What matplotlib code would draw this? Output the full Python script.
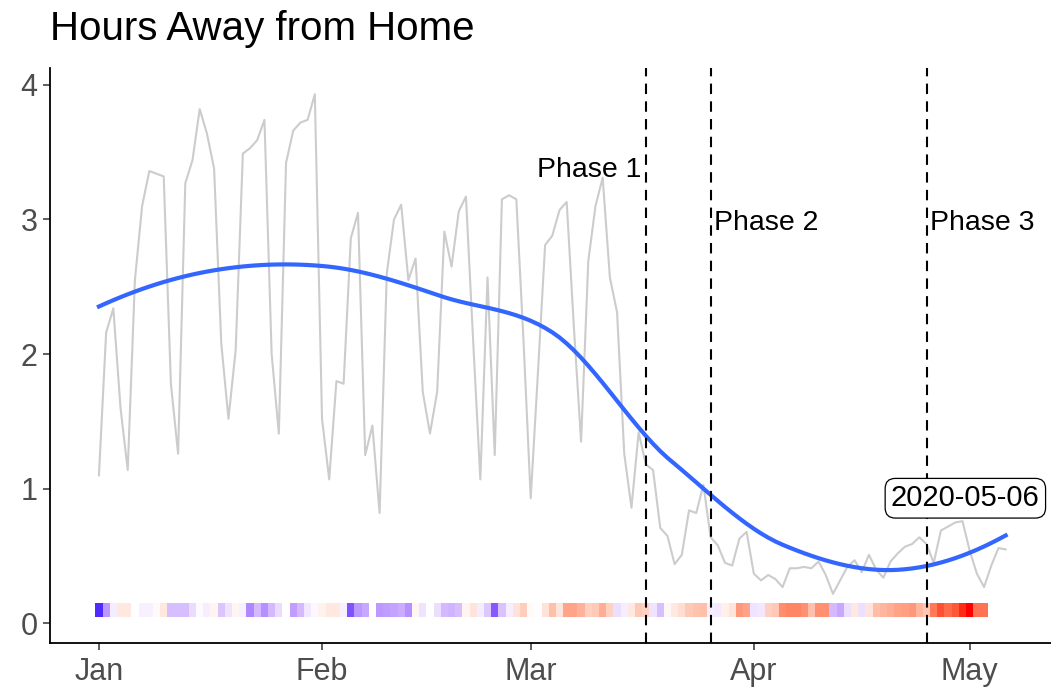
import matplotlib
matplotlib.use('Agg')
import matplotlib.pyplot as plt
import matplotlib.dates as mdates
from matplotlib.transforms import offset_copy
import numpy as np
import pandas as pd

plt.rcParams['font.family'] = ['Liberation Sans', 'DejaVu Sans']

# Daily hours away from home, 2020-01-01 .. 2020-05-06
start = '2020-01-01'
hours = [1.10, 2.16, 2.34, 1.60, 1.14, 2.55, 3.10, 3.36, 3.34, 3.32,
         1.78, 1.26, 3.27, 3.44, 3.82, 3.64, 3.38, 2.08, 1.52, 2.03,
         3.49, 3.53, 3.59, 3.74, 2.00, 1.41, 3.42, 3.66, 3.72, 3.74,
         3.93, 1.52, 1.07, 1.80, 1.78, 2.86, 3.05, 1.25, 1.47, 0.82,
         2.60, 3.00, 3.11, 2.55, 2.71, 1.72, 1.41, 1.72, 2.91, 2.65,
         3.06, 3.17, 2.10, 1.07, 2.57, 1.25, 3.15, 3.18, 3.15, 2.10,
         0.93, 1.86, 2.81, 2.88, 3.07, 3.13, 2.20, 1.35, 2.69, 3.10,
         3.31, 2.57, 2.31, 1.26, 0.86, 1.42, 1.18, 1.14, 0.71, 0.65,
         0.44, 0.51, 0.84, 0.82, 1.03, 0.64, 0.58, 0.45, 0.43, 0.63,
         0.68, 0.37, 0.32, 0.36, 0.33, 0.27, 0.41, 0.41, 0.42, 0.41,
         0.46, 0.36, 0.22, 0.32, 0.42, 0.47, 0.38, 0.51, 0.40, 0.34,
         0.46, 0.52, 0.57, 0.59, 0.64, 0.59, 0.45, 0.69, 0.72, 0.75,
         0.76, 0.54, 0.37, 0.27, 0.43, 0.56, 0.55]

# Relative change shown in the strip (negative = blue, positive = red)
change = [-0.90, -0.45, -0.08, 0.12, 0.12, 0.00, -0.06, -0.06, 0.03, 0.12,
          -0.28, -0.28, -0.28, -0.15, -0.02, -0.07, 0.06, -0.25, -0.12, 0.05,
          -0.06, -0.52, -0.30, -0.48, -0.30, -0.15, 0.00, -0.42, -0.30, -0.10,
          -0.03, 0.07, 0.12, 0.12, -0.06, -0.75, -0.45, -0.38, 0.00, -0.44,
          -0.42, -0.40, -0.36, -0.48, 0.05, -0.12, 0.00, -0.14, -0.30, -0.32,
          -0.28, 0.06, 0.14, -0.08, -0.24, -0.72, -0.26, -0.07, 0.15, 0.26,
          0.03, -0.01, 0.15, 0.33, 0.14, 0.47, 0.47, 0.40, 0.25, 0.28,
          0.42, 0.24, -0.14, -0.07, 0.12, 0.28, 0.23, -0.12, -0.28, 0.04,
          0.12, 0.18, 0.28, 0.32, 0.33, -0.07, -0.09, 0.08, 0.14, 0.53,
          0.47, -0.12, -0.10, 0.25, 0.29, 0.58, 0.62, 0.62, 0.57, 0.33,
          0.57, 0.57, -0.30, -0.38, -0.13, 0.12, -0.13, 0.14, 0.35, 0.38,
          0.42, 0.48, 0.50, 0.53, 0.38, 0.30, 0.68, 0.84, 0.74, 0.82,
          0.95, 1.00, 0.70, 0.70]

phase_dates = ['2020-03-17', '2020-03-26', '2020-04-25']
phase_labels = ['Phase 1', 'Phase 2', 'Phase 3']
phase_y = [3.4, 3.0, 3.0]
label_text = '2020-05-06'

dates = pd.date_range(start, periods=len(hours), freq='D')
tile_dates = pd.date_range(start, periods=len(change), freq='D')
hours = np.array(hours)
change = np.array(change)


# Lab -> sRGB, used to build a blue-white-red ramp interpolated in Lab space
def lab_to_rgb(lab):
    L, a, b = lab[:, 0], lab[:, 1], lab[:, 2]
    fy = (L + 16) / 116
    fx = fy + a / 500
    fz = fy - b / 200

    def finv(t):
        return np.where(t**3 > 0.008856, t**3, (t - 16 / 116) / 7.787)

    X = 0.95047 * finv(fx)
    Y = finv(fy)
    Z = 1.08883 * finv(fz)
    r = 3.2406 * X - 1.5372 * Y - 0.4986 * Z
    g = -0.9689 * X + 1.8758 * Y + 0.0415 * Z
    bb = 0.0557 * X - 0.2040 * Y + 1.0570 * Z
    rgb = np.clip(np.stack([r, g, bb], axis=1), 0, 1)
    return np.where(rgb <= 0.0031308, 12.92 * rgb,
                    1.055 * rgb**(1 / 2.4) - 0.055).clip(0, 1)


def diverging(v):
    blue = np.array([32.30, 79.19, -107.86])
    white = np.array([100.0, 0.0, 0.0])
    red = np.array([53.24, 80.09, 67.20])
    v = np.asarray(v)[:, None]
    lab = np.where(v < 0, white + (-v) * (blue - white), white + v * (red - white))
    return lab_to_rgb(lab)


# Local quadratic fit (tricube weights) at x0, returns value and slope
def local_fit(x, y, x0, q):
    d = np.abs(x - x0)
    h = np.sort(d)[q - 1]
    w = np.clip(1 - (d / h)**3, 0, None)**3
    coef = np.polyfit(x - x0, y, 2, w=np.sqrt(w))
    return coef[-1], coef[-2]


# Loess (span 0.75) evaluated on split vertices, cubic Hermite in between
def loess(x, y, span=0.75, cell=0.2):
    n = len(x)
    q = int(np.floor(n * span))
    fc = int(np.floor(n * span * cell))
    verts = {x.min(), x.max()}
    cells = [np.sort(x)]
    while cells:
        pts = cells.pop()
        if len(pts) > fc:
            m = np.median(pts)
            verts.add(m)
            cells.append(pts[pts <= m])
            cells.append(pts[pts > m])
    verts = np.array(sorted(verts))
    vals = np.array([local_fit(x, y, v, q) for v in verts])
    fit = np.zeros(n)
    for k, x0 in enumerate(x):
        j = min(np.searchsorted(verts, x0, side='right') - 1, len(verts) - 2)
        x1, x2 = verts[j], verts[j + 1]
        hh = x2 - x1
        s = (x0 - x1) / hh
        h00 = 2 * s**3 - 3 * s**2 + 1
        h10 = s**3 - 2 * s**2 + s
        h01 = -2 * s**3 + 3 * s**2
        h11 = s**3 - s**2
        fit[k] = (h00 * vals[j, 0] + h10 * hh * vals[j, 1]
                  + h01 * vals[j + 1, 0] + h11 * hh * vals[j + 1, 1])
    return fit


t = np.arange(len(hours), dtype=float)
smooth = loess(t, hours)

fig = plt.figure(figsize=(10.51, 6.92), dpi=100)
ax = fig.add_axes([50 / 1051, 49 / 692, 1001 / 1051, 575 / 692])

# Daily series and smoother
ax.plot(dates, hours, color='#cccccc', lw=1.5, zorder=2)
ax.plot(dates, smooth, color='#3366ff', lw=3.0, zorder=4)

# Colour strip
ax.bar(tile_dates, 0.1, bottom=0.05, width=1.0, color=diverging(change),
       linewidth=0, zorder=3)

# Phase markers
down = offset_copy(ax.transData, fig=fig, x=0, y=-4, units='dots')
for d, lab, y in zip(phase_dates, phase_labels, phase_y):
    xd = pd.Timestamp(d)
    ax.axvline(xd, color='black', lw=1.5, linestyle=(0, (5, 3.5)), zorder=5)
    if lab == 'Phase 1':
        ax.text(xd - pd.Timedelta(hours=14), y, lab, ha='right', va='center',
                fontsize=20.5, color='black', zorder=6, transform=down)
    else:
        ax.text(xd + pd.Timedelta(hours=10), y, lab, ha='left', va='center',
                fontsize=20.5, color='black', zorder=6, transform=down)

ax.text(pd.Timestamp(start) + pd.Timedelta(days=120.4), 0.93, label_text,
        ha='center', va='center', fontsize=21, color='black', zorder=7,
        bbox=dict(boxstyle='round,pad=0.2,rounding_size=0.35', fc='white',
                  ec='black', lw=0.9))

# Axes
t0 = pd.Timestamp(start)
ax.set_xlim(t0 - pd.Timedelta(days=6.8), t0 + pd.Timedelta(days=132.3))
ax.set_ylim(-0.145, 4.125)
ax.set_yticks([0, 1, 2, 3, 4])
ax.xaxis.set_major_locator(mdates.MonthLocator())
ax.xaxis.set_major_formatter(mdates.DateFormatter('%b'))

for s in ['top', 'right']:
    ax.spines[s].set_visible(False)
for s in ['left', 'bottom']:
    ax.spines[s].set_linewidth(1.3)
ax.tick_params(axis='both', length=5, width=1.1, labelsize=22,
               labelcolor='#4d4d4d', color='#333333')
ax.tick_params(axis='x', pad=5)
ax.tick_params(axis='y', pad=4)

fig.text(50 / 1051, 1 - 29 / 692, 'Hours Away from Home', fontsize=29,
         ha='left', va='center', color='black')

fig.savefig('out.png', dpi=100)
